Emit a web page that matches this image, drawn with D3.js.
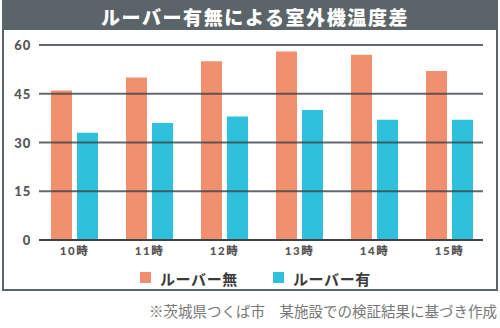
<!DOCTYPE html>
<html><head><meta charset="utf-8">
<script src="https://cdn.jsdelivr.net/npm/d3@7"></script>
<style>body{margin:0;background:#fff}svg{display:block}</style>
</head><body>
<script>
const categories = ["10時","11時","12時","13時","14時","15時"];
const seriesNames = ["ルーバー無","ルーバー有"];
const noLouver = [46,50,55,58,57,52];
const withLouver = [33,36,38,40,37,37];
const yTicks = [0,15,30,45,60];
const title = "ルーバー有無による室外機温度差";
const note = "※茨城県つくば市　某施設での検証結果に基づき作成";

const W=500,H=328;
const colors=["#f0906e","#2fc0dc"];
const frame="#5b6468";
const font="'Noto Sans CJK JP','Noto Sans',sans-serif";
const numFont="Lato,'Noto Sans CJK JP',sans-serif";
const svg=d3.select("body").append("svg").attr("width",W).attr("height",H);

// frame
svg.append("rect").attr("x",3).attr("y",1).attr("width",494).attr("height",289)
  .attr("fill","#fff").attr("stroke",frame).attr("stroke-width",2);
svg.append("rect").attr("x",2).attr("y",0).attr("width",496).attr("height",30).attr("fill",frame);
svg.append("text").attr("x",255).attr("y",16).attr("text-anchor","middle")
  .attr("dominant-baseline","central").attr("fill","#fff").attr("font-family",font)
  .attr("font-weight",900).attr("font-size",19).attr("letter-spacing",1.6).text(title);

const y=d3.scaleLinear().domain([0,60]).range([240,45]);
const x=d3.scaleBand().domain(categories).range([37,487]);
const x1=d3.scaleBand().domain(seriesNames).range([14,61]).paddingInner(0.1923);

// bars
const data=[noLouver,withLouver];
seriesNames.forEach((s,si)=>{
  svg.append("g").selectAll("rect").data(categories).join("rect")
    .attr("x",c=>x(c)+x1(s))
    .attr("y",(c,i)=>y(data[si][i]))
    .attr("width",x1.bandwidth())
    .attr("height",(c,i)=>y(0)-y(data[si][i]))
    .attr("fill",colors[si]);
});

// y labels
const yAxis=d3.axisLeft(y).tickValues(yTicks).tickSize(0).tickPadding(0);
const ga=svg.append("g").attr("transform","translate(31,0)").call(yAxis);
ga.select(".domain").remove();
ga.selectAll("text").attr("font-family",numFont).attr("font-weight",900).attr("font-size",13)
  .attr("fill","#555").attr("letter-spacing",0.8).attr("dy","0.35em");
// grid on top (semi-transparent)
svg.append("g").selectAll("line").data(yTicks).join("line")
  .attr("x1",39).attr("x2",483).attr("y1",d=>y(d)).attr("y2",d=>y(d))
  .attr("stroke","#3c4448").attr("stroke-width",2).attr("stroke-opacity",d=>d===0?1:0.8);

// x axis labels
const xAxis=d3.axisBottom(x).tickSize(0).tickPadding(0);
const gx=svg.append("g").attr("transform","translate(0,251)").call(xAxis);
gx.select(".domain").remove();
gx.selectAll("text").attr("font-family",numFont).attr("font-weight",900).attr("font-size",11.5)
  .attr("fill","#555").attr("letter-spacing",1.5).attr("dy","0.35em");

// legend
const lx=[140,273];
seriesNames.forEach((s,i)=>{
  svg.append("rect").attr("x",lx[i]).attr("y",272).attr("width",11).attr("height",11).attr("fill",colors[i]);
  svg.append("text").attr("x",lx[i]+20).attr("y",278).attr("dominant-baseline","central")
    .attr("font-family",font).attr("font-weight",700).attr("font-size",15).attr("fill","#3a3a3a")
    .attr("letter-spacing",0.6).text(s);
});

svg.append("text").attr("x",497).attr("y",310).attr("text-anchor","end").attr("dominant-baseline","central")
  .attr("font-family",font).attr("font-size",14.5).attr("fill","#777").text(note);
</script>
</body></html>
